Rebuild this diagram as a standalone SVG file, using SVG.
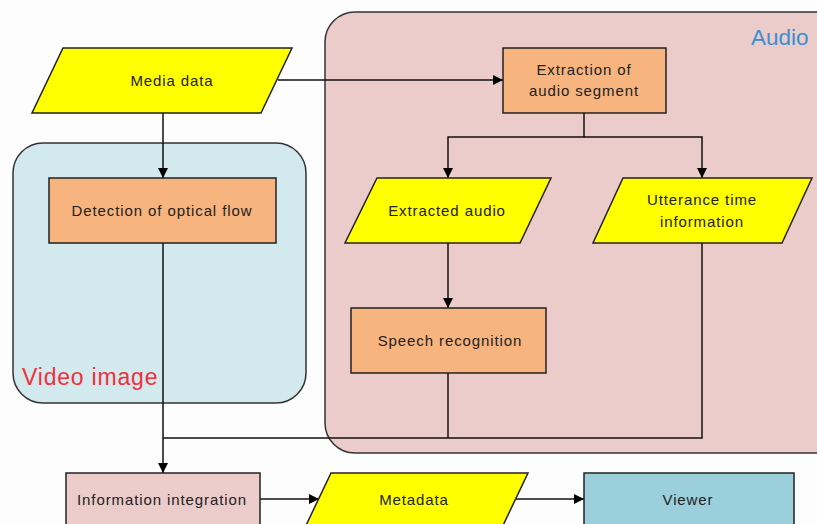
<svg xmlns="http://www.w3.org/2000/svg" width="817" height="524" viewBox="0 0 817 524">
<defs>
<marker id="ah" viewBox="0 0 10 10" refX="10" refY="5" markerWidth="10" markerHeight="10" markerUnits="userSpaceOnUse" orient="auto">
<path d="M0,0 L10,5 L0,10 Z" fill="#000"/>
</marker>
<style>
.grp{stroke:#333;stroke-width:1.5}
.box{stroke:#222;stroke-width:1.5}
.io{fill:#ffff00;stroke:#222;stroke-width:1.5}
.proc{fill:#f7b47e;stroke:#222;stroke-width:1.5}
.t{font-family:"Liberation Sans",Arial,sans-serif;font-size:15px;letter-spacing:0.9px;fill:#222;text-anchor:middle;dominant-baseline:central}
.edge{fill:none;stroke:#111;stroke-width:1.5}
</style>
</defs>
<rect width="817" height="524" fill="#fdfdfd"/>
<g id="group-audio">
<rect class="grp" x="325" y="12" width="520" height="441" rx="30" fill="#eccbcb"/>
<text x="751" y="45" font-family="'Liberation Sans',Arial,sans-serif" font-size="22.5" fill="#3b8fd0">Audio</text>
</g>
<g id="group-video">
<rect class="grp" x="13" y="143" width="293" height="260" rx="30" fill="#d2e9ee"/>
<text x="22" y="385" font-family="'Liberation Sans',Arial,sans-serif" font-size="23" letter-spacing="0.8" fill="#f0303c">Video image</text>
</g>
<g id="connectors">
<path class="edge" d="M163,113 V178" marker-end="url(#ah)"/>
<path class="edge" d="M278,80 H503" marker-end="url(#ah)"/>
<path class="edge" d="M584,113 V137 H448 V178" marker-end="url(#ah)"/>
<path class="edge" d="M584,137 H702 V178" marker-end="url(#ah)"/>
<path class="edge" d="M448,243 V308" marker-end="url(#ah)"/>
<path class="edge" d="M448,373 V438"/>
<path class="edge" d="M702,243 V438 H163"/>
<path class="edge" d="M163,243 V473" marker-end="url(#ah)"/>
<path class="edge" d="M260,499 H319" marker-end="url(#ah)"/>
<path class="edge" d="M516,499 H584" marker-end="url(#ah)"/>
</g>
<g id="media-data">
<polygon class="io" points="63,48 292,48 261,113 32,113"/>
<text class="t" x="172" y="80">Media data</text>
</g>
<g id="detection">
<rect class="proc" x="49" y="178" width="227" height="65"/>
<text class="t" x="162" y="210">Detection of optical flow</text>
</g>
<g id="extraction">
<rect class="proc" x="503" y="48" width="163" height="65"/>
<text class="t" x="584" y="69">Extraction of</text>
<text class="t" x="584" y="90">audio segment</text>
</g>
<g id="extracted-audio">
<polygon class="io" points="377,178 551,178 520,243 345,243"/>
<text class="t" x="447" y="210">Extracted audio</text>
</g>
<g id="utterance">
<polygon class="io" points="623,178 812,178 782,243 593,243"/>
<text class="t" x="702" y="199">Utterance time</text>
<text class="t" x="702" y="221">information</text>
</g>
<g id="speech">
<rect class="proc" x="351" y="308" width="195" height="65"/>
<text class="t" x="450" y="340">Speech recognition</text>
</g>
<g id="integration">
<rect class="box" x="66" y="473" width="194" height="65" fill="#eccbcb"/>
<text class="t" x="162" y="499">Information integration</text>
</g>
<g id="metadata">
<polygon class="io" points="331,473 528,473 497,538 300,538"/>
<text class="t" x="414" y="499">Metadata</text>
</g>
<g id="viewer">
<rect class="box" x="584" y="473" width="210" height="65" fill="#9ccfdc"/>
<text class="t" x="688" y="499">Viewer</text>
</g>
</svg>
